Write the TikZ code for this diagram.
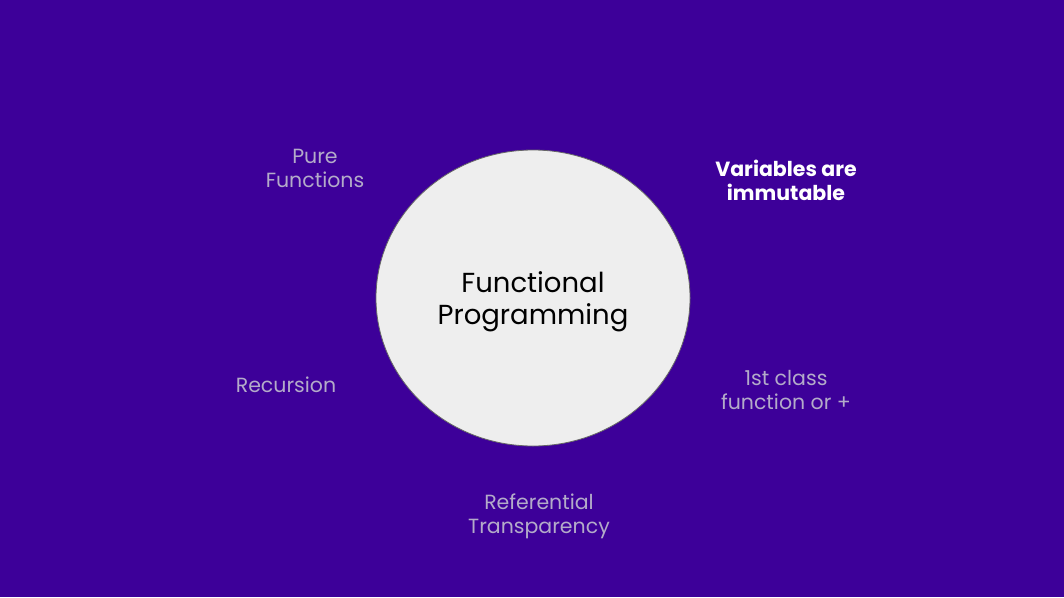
\documentclass[tikz,border=0pt]{standalone}
\usepackage{fontspec}
\setmainfont{Poppins}
\definecolor{bgpurple}{HTML}{3D0099}
\definecolor{discfill}{HTML}{EEEEEE}
\definecolor{discline}{HTML}{666666}
\definecolor{softlabel}{HTML}{B3ABC9}
\begin{document}
\begin{tikzpicture}[x=1pt,y=1pt,
  topic/.style={text=softlabel, align=center, inner sep=0pt,
    font=\fontsize{20.5}{24}\selectfont},
  keytopic/.style={text=white, align=center, inner sep=0pt,
    font=\bfseries\fontsize{20.5}{24}\selectfont},
  core/.style={fill=discfill, draw=discline, line width=0.8pt}]
  % background
  \fill[bgpurple] (0,0) rectangle (1064,-597);
  \useasboundingbox (0,0) rectangle (1064,-597);
  % central disc
  \filldraw[core] (533,-298) ellipse [x radius=157, y radius=148];
  \node[align=center, inner sep=0pt, font=\fontsize{27.5}{32}\selectfont]
    (fp) at (533,-302) {Functional\\Programming};
  % surrounding topics
  \node[topic] (pure) at (315,-168) {Pure\\Functions};
  \node[keytopic] (vars) at (786,-180) {Variables are\\immutable};
  \node[topic] (rec) at (286,-385) {Recursion};
  \node[topic] (first) at (786,-390) {1st class\\function or +};
  \node[topic] (ref) at (539,-516) {Referential\\Transparency};
\end{tikzpicture}
\end{document}
